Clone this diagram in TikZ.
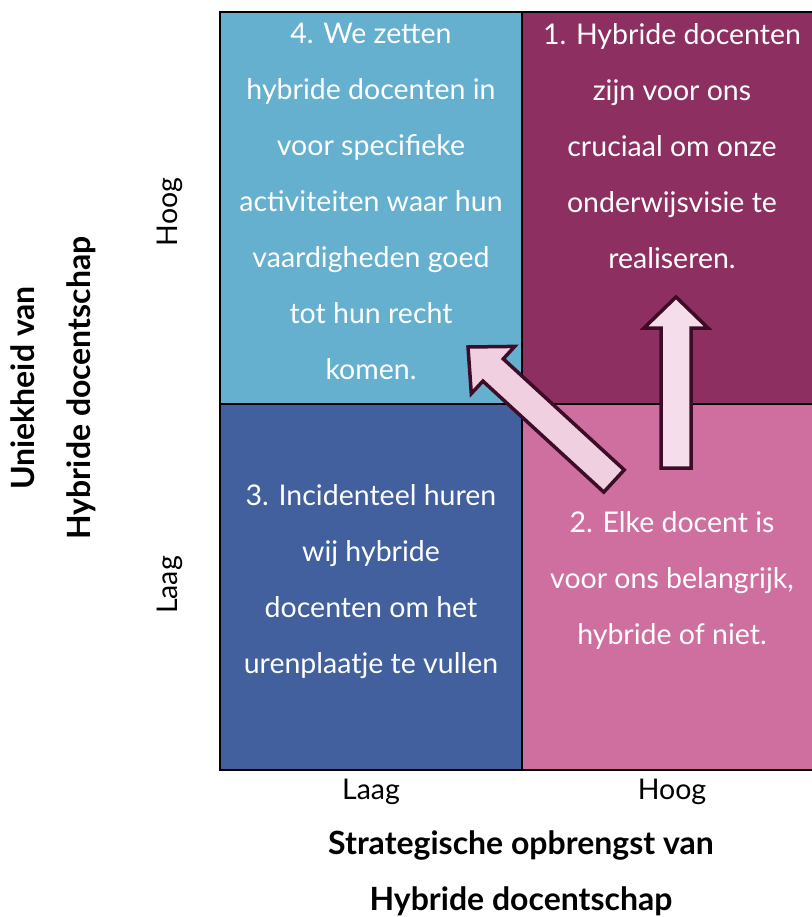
\documentclass[tikz,border=0pt]{standalone}
\usepackage{fontspec}
\setmainfont{Lato}
\definecolor{cTL}{HTML}{65B0CE}
\definecolor{cTR}{HTML}{8D2F60}
\definecolor{cBL}{HTML}{41609D}
\definecolor{cBR}{HTML}{CE6FA0}
\definecolor{arrD}{HTML}{F0CFE0}
\definecolor{arrV}{HTML}{F6DDEB}
\definecolor{arrS}{HTML}{3D0C27}
\begin{document}
\begin{tikzpicture}[x=1pt,y=-1pt,
  quadtxt/.style={text=white,font=\fontsize{28.5}{56}\selectfont,align=center,anchor=north,inner sep=0pt},
  axtxt/.style={font=\fontsize{28.5}{30}\selectfont},
  axbold/.style={font=\fontsize{32}{56}\selectfont\bfseries,align=center},
  blockarrow/.style={draw=arrS,line width=3.5pt,line join=miter}]
\useasboundingbox (0,0) rectangle (811,917);
% quadrants
\fill[cTL] (220,12) rectangle (522,404);
\fill[cTR] (522,12) rectangle (815,404);
\fill[cBL] (220,404) rectangle (522,770);
\fill[cBR] (522,404) rectangle (815,770);
\draw[line width=2pt] (220,12) rectangle (815,770);
\draw[line width=2pt] (522,12) -- (522,770);
\draw[line width=2pt] (220,404) -- (815,404);
% quadrant texts
\node[quadtxt] (q4) at (371,23) {4. We zetten\\hybride docenten in\\voor specifieke\\activiteiten waar hun\\vaardigheden goed\\tot hun recht\\komen.};
\node[quadtxt] (q1) at (672,23) {1. Hybride docenten\\zijn voor ons\\cruciaal om onze\\onderwijsvisie te\\realiseren.};
\node[quadtxt] (q3) at (371,484) {3. Incidenteel huren\\wij hybride\\docenten om het\\urenplaatje te vullen};
\node[quadtxt] (q2) at (672,511) {2. Elke docent is\\voor ons belangrijk,\\hybride of niet.};
% arrows
\coordinate (vt) at (676,297);
\draw[blockarrow,fill=arrV] (661,468) -- (661,328) -- (644,328) -- (vt) -- (708,328) -- (691,328) -- (691,468) -- cycle;
\coordinate (dt) at (468,347);
\draw[blockarrow,fill=arrD] (624.2,469.9) -- (503.3,358.9) -- (514.7,346.4) -- (dt) -- (471.3,393.6) -- (482.9,381.1) -- (603.8,492.1) -- cycle;
% axis labels
\node[axtxt] (xl) at (371,792) {Laag};
\node[axtxt] (xh) at (672,792) {Hoog};
\node[axtxt,rotate=90] (yh) at (170,212) {Hoog};
\node[axtxt,rotate=90] (yl) at (170,585) {Laag};
\node[axbold] (xt) at (521,873) {Strategische opbrengst van\\Hybride docentschap};
\node[axbold,rotate=90] (yt) at (53,388) {Uniekheid van\\Hybride docentschap};
\end{tikzpicture}
\end{document}
